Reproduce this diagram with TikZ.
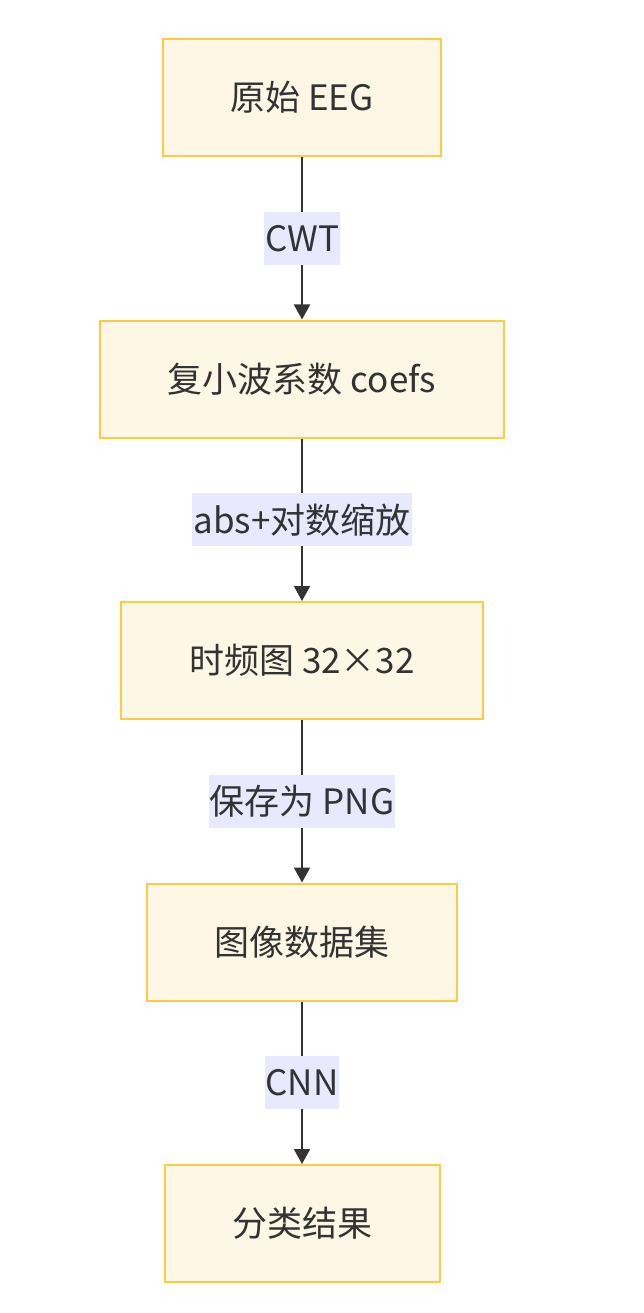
\documentclass[tikz,border=0pt]{standalone}
\usepackage{fontspec}
\setmainfont{Noto Sans CJK SC}
\usetikzlibrary{arrows.meta}
\definecolor{boxfill}{HTML}{FFF7E5}
\definecolor{boxline}{HTML}{FFCB45}
\definecolor{lblbg}{HTML}{E8E8FF}
\definecolor{ink}{HTML}{333333}
\tikzset{
  stepbox/.style={draw=boxline, fill=boxfill, line width=2pt, inner sep=0pt, anchor=center, text=ink, font=\fontsize{35}{42}\selectfont},
  lbl/.style={fill=lblbg, text=ink, inner xsep=1pt, inner ysep=0pt, minimum height=53pt, font=\fontsize{35}{42}\selectfont},
  conn/.style={draw=ink, line width=2pt, -{Triangle[length=15pt,width=16pt]}}
}
\begin{document}
\begin{tikzpicture}[x=1pt,y=-1pt]
\useasboundingbox (0,0) rectangle (644,1313);
\node[stepbox, minimum width=278pt, minimum height=117pt] (a) at (302,97.5) {原始 EEG};
\node[stepbox, minimum width=404pt, minimum height=117pt] (b) at (302,379) {复小波系数 coefs};
\node[stepbox, minimum width=362pt, minimum height=117pt] (c) at (302,660.5) {时频图 32×32};
\node[stepbox, minimum width=310pt, minimum height=117pt] (d) at (302,942) {图像数据集};
\node[stepbox, minimum width=275pt, minimum height=117pt] (e) at (302,1223.5) {分类结果};
\draw[conn] (a) -- (b) node[pos=0.5, lbl] (l1) {CWT};
\draw[conn] (b) -- (c) node[pos=0.5, lbl] (l2) {abs+对数缩放};
\draw[conn] (c) -- (d) node[pos=0.5, lbl] (l3) {保存为 PNG};
\draw[conn] (d) -- (e) node[pos=0.5, lbl] (l4) {CNN};
\end{tikzpicture}
\end{document}
